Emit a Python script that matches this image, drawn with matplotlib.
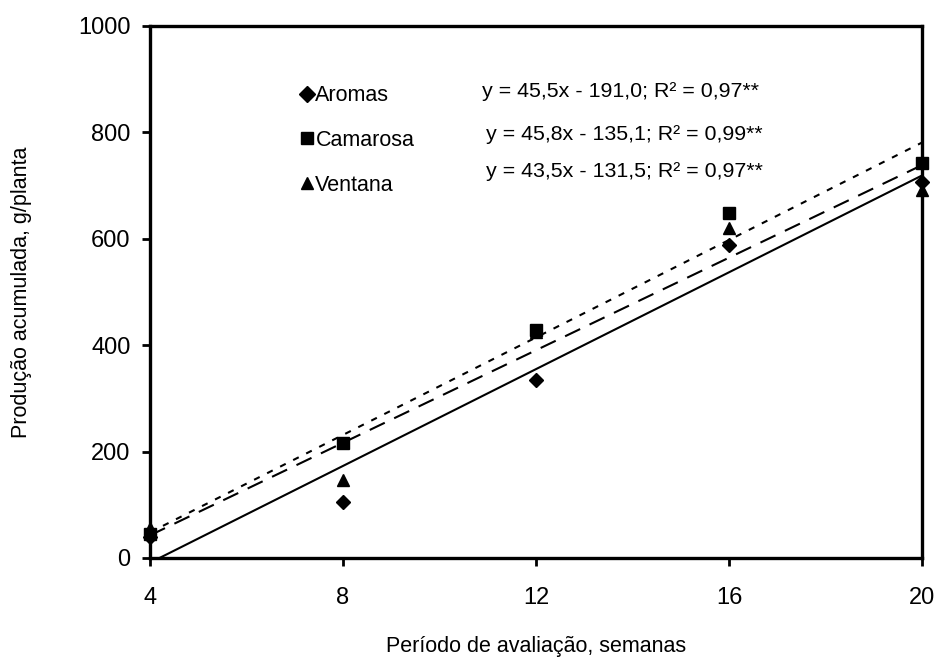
import matplotlib
matplotlib.use("Agg")
import matplotlib.pyplot as plt
import numpy as np

plt.rcParams['font.family'] = ['Liberation Sans', 'DejaVu Sans']

weeks = [4, 8, 12, 16, 20]
aromas = [40, 106, 335, 588, 707]
camarosa = [45, 217, 429, 648, 742]
ventana = [57, 147, 425, 620, 692]

cultivars = ["Aromas", "Camarosa", "Ventana"]
slopes = [45.5, 45.8, 43.5]
intercepts = [-191.0, -135.1, -131.5]
equations = ["y = 45,5x - 191,0; R² = 0,97**",
             "y = 45,8x - 135,1; R² = 0,99**",
             "y = 43,5x - 131,5; R² = 0,97**"]

fig = plt.figure(figsize=(9.39, 6.70), dpi=100)
ax = fig.add_axes([0.1597, 0.1672, 0.9819 - 0.1597, 0.9612 - 0.1672])

series = [aromas, camarosa, ventana]
markers = ["D", "s", "^"]
msizes = [7.5, 8, 9]
linestyles = ["-", (0, (3, 4)), (0, (8, 5))]

xfit = np.array([weeks[0], weeks[-1]], dtype=float)
for name, m, b, ls in zip(cultivars, slopes, intercepts, linestyles):
    ax.plot(xfit, m * xfit + b, color="black", lw=1.5, linestyle=ls)

handles = []
for name, vals, mk, ms in zip(cultivars, series, markers, msizes):
    h, = ax.plot(weeks, vals, linestyle="none", marker=mk, markersize=ms,
                 color="black", clip_on=False, zorder=5, label=name)
    handles.append(h)

leg = ax.legend(handles=handles, loc="upper left", bbox_to_anchor=(0.185, 0.905),
                frameon=False, fontsize=15.5, handlelength=0.5, handletextpad=0.15,
                labelspacing=1.1, borderaxespad=0)
for lh in leg.legend_handles:
    lh.set_markersize(8)

eq_y = [0.877, 0.796, 0.726]
eq_x = [0.43, 0.435, 0.435]
for t, xx, yy in zip(equations, eq_x, eq_y):
    ax.text(xx, yy, t, transform=ax.transAxes, fontsize=15.4, va="center", ha="left")

ax.set_xlim(4, 20)
ax.set_ylim(0, 1000)
ax.set_xticks(weeks)
ax.set_yticks([0, 200, 400, 600, 800, 1000])
for s in ax.spines.values():
    s.set_linewidth(2.4)
ax.tick_params(direction="out", length=6, width=2, labelsize=17, pad=15)
ax.tick_params(axis="y", pad=8)

ax.set_xlabel("Período de avaliação, semanas", fontsize=15.5, labelpad=19)
ax.set_ylabel("Produção acumulada, g/planta", fontsize=15.5, labelpad=33)

fig.savefig("out.png", dpi=100)
